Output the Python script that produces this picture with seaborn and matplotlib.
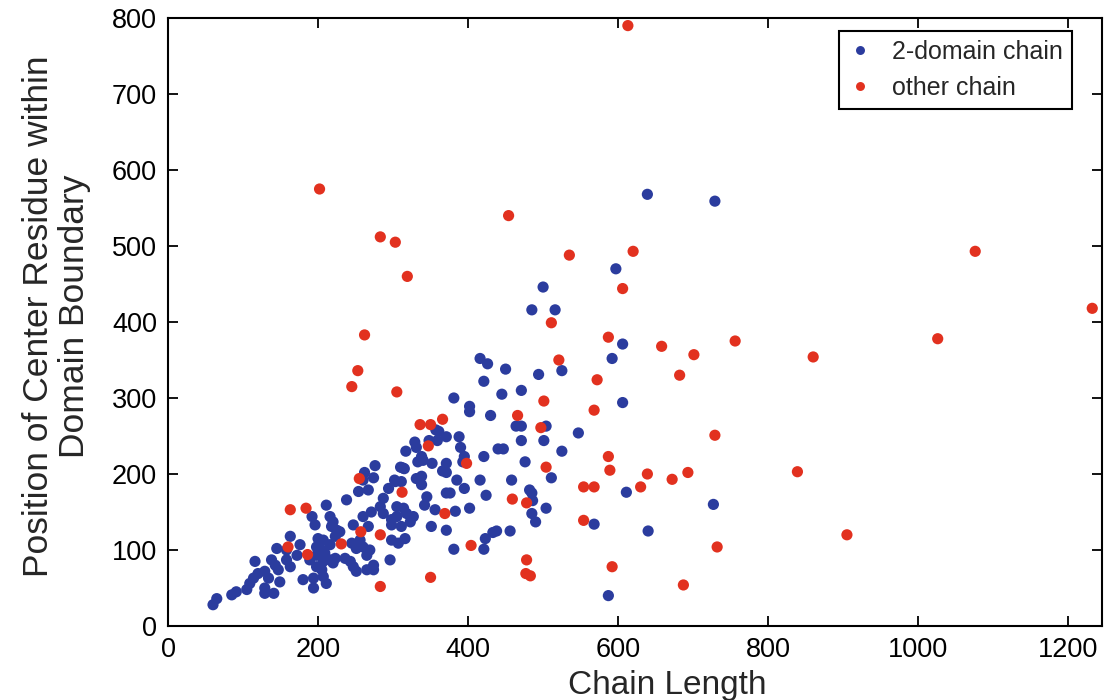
import seaborn as sns
import pandas as pd
import matplotlib
matplotlib.use("Agg")
import matplotlib.pyplot as plt

# 数据: 链长 vs 结构域边界中心残基位置
blue_x = [500, 485, 516, 416, 426, 450, 525, 494, 421, 471, 445, 381, 402, 402, 430, 464, 471, 504, 547,
          357, 361, 371, 388, 329, 348, 359, 331, 390, 471, 501, 440, 447, 525, 317, 395, 421, 338, 333,
          340, 352, 371, 393, 476, 276, 310, 315, 366, 371, 262, 338, 274, 511, 302, 385, 416, 458,
          606, 395, 482, 485, 486, 424, 376, 611, 402, 504, 383, 485, 490, 568, 727, 438, 433, 456, 423,
          421, 381, 640, 587,
          639, 729, 597, 606, 592,
          60, 65, 85, 91, 105, 109, 129, 141, 129, 114, 120, 129, 134, 116, 138, 143, 147, 149, 145, 158,
          163, 158, 163, 176, 172, 180, 194, 194, 207, 211, 192, 196, 211, 216, 218, 220, 200, 207, 198,
          205, 209, 216, 223, 225, 229, 189, 198, 207, 216, 198, 205, 223, 220, 236, 243, 247, 251, 238,
          260, 254, 267, 247, 260, 267, 271, 256, 260, 265, 269, 265, 274, 274, 245, 251, 287, 294, 303,
          311, 313, 283, 287, 298, 305, 305, 314, 318, 327, 323, 311, 298, 298, 307, 316, 296, 331, 345,
          342, 356, 338, 351, 371, 371]
blue_y = [446, 416, 416, 352, 345, 338, 336, 331, 322, 310, 305, 300, 289, 282, 277, 263, 263, 263, 254,
          258, 256, 249, 249, 242, 244, 244, 235, 235, 244, 244, 233, 233, 230, 230, 223, 223, 223, 216,
          218, 214, 214, 216, 216, 211, 209, 207, 204, 202, 202, 197, 195, 195, 192, 192, 192, 192,
          294, 181, 179, 175, 165, 172, 175, 176, 155, 155, 151, 148, 137, 134, 160, 125, 123, 125, 115,
          101, 101, 125, 40,
          568, 559, 470, 371, 352,
          28, 36, 41, 45, 48, 56, 43, 43, 50, 63, 69, 72, 63, 85, 87, 80, 74, 58, 102, 100,
          118, 87, 78, 107, 93, 61, 63, 50, 65, 56, 144, 133, 159, 144, 131, 137, 115, 113, 104,
          100, 96, 107, 118, 126, 124, 87, 93, 85, 87, 78, 74, 89, 83, 89, 85, 78, 72, 166,
          192, 177, 179, 133, 144, 131, 150, 113, 104, 93, 100, 74, 74, 80, 109, 102, 168, 181, 190,
          190, 208, 157, 148, 140, 144, 157, 155, 148, 144, 137, 131, 133, 113, 109, 115, 87, 194, 170,
          159, 153, 186, 131, 175, 126]

red_x = [202, 454, 283, 303, 535, 319, 511, 262, 521, 253, 572, 245, 305, 501, 568, 466, 366, 336, 350,
         497, 347, 398, 504, 255, 729, 587, 589, 639, 672, 693, 630, 554, 568, 459, 478, 554, 732, 404,
         478, 477, 483, 592, 687, 682, 620, 606, 1076, 1232, 587, 658, 701, 756, 860, 1026, 613, 839,
         905, 312, 369, 163, 184, 257, 283, 231, 160, 186, 350, 283]
red_y = [575, 540, 512, 505, 488, 460, 399, 383, 350, 336, 324, 315, 308, 296, 284, 277, 272, 265, 265,
         261, 237, 214, 209, 194, 251, 223, 205, 200, 193, 202, 183, 183, 183, 167, 162, 139, 104, 106,
         87, 69, 66, 78, 54, 330, 493, 444, 493, 418, 380, 368, 357, 375, 354, 378, 790, 203,
         120, 176, 148, 153, 155, 124, 120, 108, 104, 94, 64, 52]

labels = ["2-domain chain", "other chain"]
colors = ["#2B3C9E", "#E2311F"]

df = pd.DataFrame({
    "length": blue_x + red_x,
    "center": blue_y + red_y,
    "chain": [labels[0]] * len(blue_x) + [labels[1]] * len(red_x),
})

sns.set_style("ticks")
plt.rcParams["font.family"] = ["Liberation Sans", "DejaVu Sans"]

fig = plt.figure(figsize=(11.08, 7.0), dpi=100)
ax = fig.add_axes([168 / 1108, 1 - 626 / 700, 934 / 1108, 608 / 700])

sns.scatterplot(data=df, x="length", y="center", hue="chain", hue_order=labels,
                palette=dict(zip(labels, colors)), s=65, linewidth=0, alpha=1, ax=ax)

ax.set_xlim(0, 1245)
ax.set_ylim(0, 800)
ax.set_xticks(range(0, 1201, 200))
ax.set_yticks(range(0, 801, 100))
ax.tick_params(direction="in", length=7, width=1.3, labelsize=19.5, top=True, right=True,
               colors="black", pad=8)
for sp in ax.spines.values():
    sp.set_visible(True)
    sp.set_linewidth(1.5)
    sp.set_color("black")

ax.set_xlabel("Chain Length", fontsize=24)
ax.xaxis.set_label_coords(0.535, -0.072)
ax.set_ylabel("Position of Center Residue within\nDomain Boundary", fontsize=25.5,
              linespacing=1.15)
ax.yaxis.set_label_coords(-0.082, 0.51)

sns.move_legend(ax, "upper right", bbox_to_anchor=(0.968, 0.979), title=None, frameon=True,
                fontsize=18, fancybox=False, edgecolor="black", framealpha=1,
                markerscale=0.8, borderaxespad=0, handlelength=1.0, handletextpad=0.8,
                borderpad=0.35)
ax.get_legend().get_frame().set_linewidth(1.5)

plt.savefig("out.png", dpi=100)
